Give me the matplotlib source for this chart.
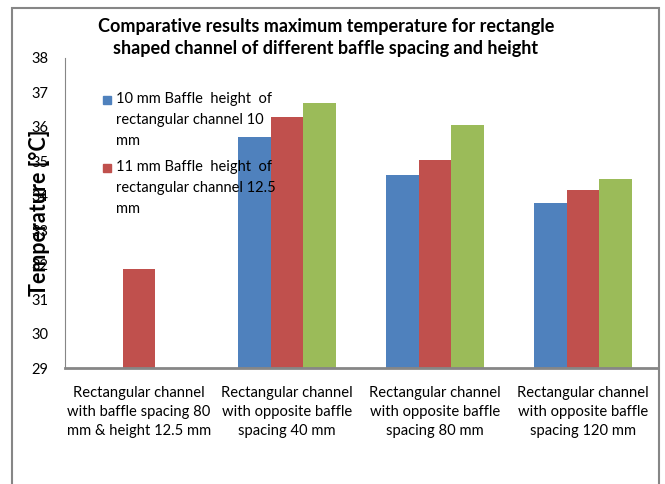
import numpy as np
import matplotlib
matplotlib.use('Agg')
import matplotlib.pyplot as plt
from matplotlib.patches import Rectangle

plt.rcParams['font.family'] = ['Lato', 'DejaVu Sans']

categories = ['Rectangular channel\nwith baffle spacing 80\nmm & height 12.5 mm',
              'Rectangular channel\nwith opposite baffle\nspacing 40 mm',
              'Rectangular channel\nwith opposite baffle\nspacing 80 mm',
              'Rectangular channel\nwith opposite baffle\nspacing 120 mm']
blue_vals = [np.nan, 35.72, 34.61, 33.80]
red_vals = [31.88, 36.28, 35.04, 34.17]
green_vals = [np.nan, 36.70, 36.06, 34.49]
legend_labels = ['10 mm Baffle  height  of\nrectangular channel 10\nmm',
                 '11 mm Baffle  height  of\nrectangular channel 12.5\nmm']
colors = ['#4F81BD', '#C0504D', '#9BBB59']

fig = plt.figure(figsize=(6.65, 4.84), dpi=100)
ax = fig.add_axes([65/665, 1-368/484, 592/665, 310/484])

x = np.arange(len(categories))
w = 1/4.5
ax.bar(x - w, blue_vals, w, color=colors[0])
ax.bar(x, red_vals, w, color=colors[1])
ax.bar(x + w, green_vals, w, color=colors[2])

ax.set_ylim(29, 38)
ax.set_xlim(-0.5, 3.5)
ax.set_yticks(range(29, 39))
ax.set_xticks(x)
ax.set_xticklabels(categories, fontsize=10.6, linespacing=1.45)
ax.tick_params(axis='y', length=0, labelsize=10.5, pad=12)
ax.tick_params(axis='x', length=0, pad=13)
for s in ['top', 'right']:
    ax.spines[s].set_visible(False)
ax.spines['left'].set_color('#868686')
ax.spines['bottom'].set_color('#868686')
ax.spines['bottom'].set_linewidth(2)

ax.set_ylabel('Temperature [°C]', fontsize=15.5, fontweight='bold')
ax.yaxis.set_label_coords((50-65)/592, 0.5)

fig.suptitle('Comparative results maximum temperature for rectangle\nshaped channel of different baffle spacing and height',
             x=326/665, y=1-18/484, fontsize=13, fontweight='bold', linespacing=1.37)

# legend drawn by hand (square markers sit on the first text line)
for i, lab in enumerate(legend_labels):
    top_px = 100 + i * 68
    ax.add_patch(Rectangle(((103-65)/592, (368-top_px-4)/310), 8/592, 8/310,
                           transform=ax.transAxes, color=colors[i], clip_on=False))
    ax.text((116-65)/592, (368-top_px+8)/310, lab, transform=ax.transAxes,
            fontsize=10.5, va='top', ha='left', linespacing=1.65)

fig.add_artist(Rectangle((12/665, -0.1), 647/665, 1.1-8/484, transform=fig.transFigure,
                         fill=False, edgecolor='#868686', linewidth=1.5))

fig.savefig('out.png', dpi=100)
